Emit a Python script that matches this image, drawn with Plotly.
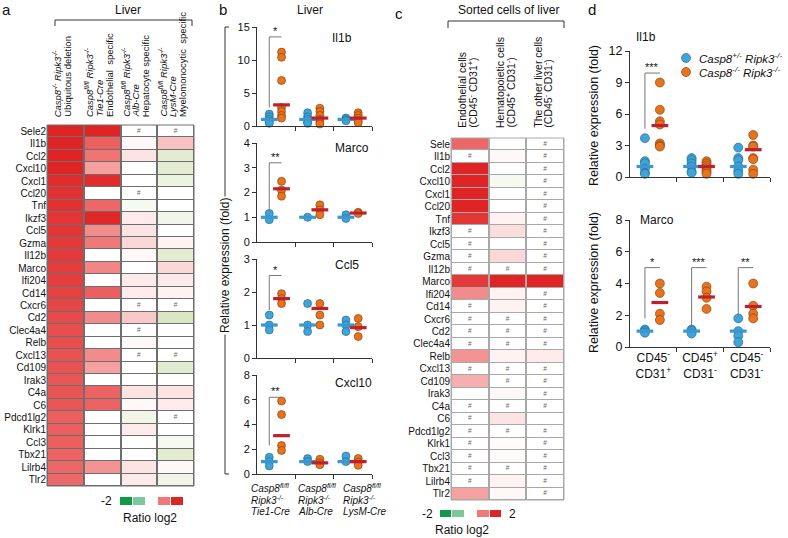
import plotly.graph_objects as go

W, H = 788, 538
FONT = "Arial, Liberation Sans, sans-serif"
TXT = "#111111"
AX = "#333333"


def fx(x):
    return x / W


def fy(y):
    return 1 - y / H


# ---------------- Panel a data (log2 ratio) ----------------
genes_a = ["Sele2", "Il1b", "Ccl2", "Cxcl10", "Cxcl1", "Ccl20", "Tnf", "Ikzf3", "Ccl5", "Gzma",
           "Il12b", "Marco", "Ifi204", "Cd14", "Cxcr6", "Cd2", "Clec4a4", "Relb", "Cxcl13", "Cd109",
           "Irak3", "C4a", "C6", "Pdcd1lg2", "Klrk1", "Ccl3", "Tbx21", "Lilrb4", "Tlr2"]
a_ubiquitous = [2.0, 2.0, 2.0, 2.0, 1.9, 1.85, 1.85, 1.8, 1.8, 1.75, 1.75, 1.7, 1.7, 1.65, 1.6,
                1.55, 1.5, 1.5, 1.45, 1.45, 1.4, 1.4, 1.4, 1.3, 1.3, 1.3, 1.25, 1.2, 1.2]
a_tie1 = [2.0, 1.3, 1.05, 0.7, 1.9, 0, 1.2, 1.95, 0.85, 1.0, 0, 0.9, 0, 1.3, 0, 0.85, 0, 0, 0.85,
          0.7, 0, 1.25, 1.25, 0, 0, 0, 0, 0.8, 0]
a_alb = [0, 0.05, 0.2, 0, 0, 0, -0.1, 0.15, 0.2, 0.3, 0.05, 0, 0.15, 0.15, 0, 0.4, 0, 0.05, 0, 0,
         0, 0.2, 0.05, -0.15, 0.15, 0, 0, 0.2, 0.15]
a_lysm = [0, 0.45, -0.3, -0.3, -0.2, 0, 0, -0.15, 0, 0.1, -0.3, 0.3, 0.15, 0.1, 0, -0.4, 0, 0, 0,
          -0.3, 0, 0.2, 0.15, 0, 0, -0.1, -0.3, 0.05, -0.15]
hash_a = [[], [], ["Sele2", "Ccl20", "Cxcr6", "Clec4a4", "Cxcl13"],
          ["Sele2", "Cxcr6", "Cxcl13", "Pdcd1lg2"]]
cols_a_labels = [
    ["<i>Casp8<sup>-/-</sup> Ripk3<sup>-/-</sup></i>", "Ubiquitous deletion"],
    ["<i>Casp8<sup>fl/fl</sup> Ripk3<sup>-/-</sup></i>", "<i>Tie1-Cre</i>", "Endothelial  specific"],
    ["<i>Casp8<sup>fl/fl</sup> Ripk3<sup>-/-</sup></i>", "<i>Alb-Cre</i>", "Hepatocyte specific"],
    ["<i>Casp8<sup>fl/fl</sup> Ripk3<sup>-/-</sup></i>", "<i>LysM-Cre</i>", "Myelomonocytic  specific"],
]

# ---------------- Panel c data (log2 ratio) ----------------
genes_c = ["Sele"] + genes_a[1:]
c_endo = [1.2, 0, 2.0, 2.0, 2.0, 2.0, 1.8, 0, 0, 0, 0, 1.75, 0.85, 0, 0, 0, 0, 0.8, 0, 0.6, 0, 0,
          0, 0, 0, 0, 0, 0, 0.7]
c_hemato = [0, 0.05, 0, -0.1, 0, 0, 0.1, 0.25, 0, 0.3, 0, 2.0, 0.1, 0.1, 0, 0, 0, 0.1, 0, 0, 0.05,
            0, 0.2, 0, 0.03, 0.03, 0, 0.1, 0.05]
c_other = [0, 0, 0, 0, 0, 0, 0, 0, 0, 0, 0, 2.0, 0, 0, 0, 0, 0, 0.15, 0, 0, 0, 0, 0, 0, 0, 0, 0,
           0, 0]
hash_c = [
    ["Il1b", "Ikzf3", "Ccl5", "Gzma", "Il12b", "Cd14", "Cxcr6", "Cd2", "Clec4a4", "Cxcl13", "C4a",
     "C6", "Pdcd1lg2", "Klrk1", "Ccl3", "Tbx21", "Lilrb4"],
    ["Il12b", "Cxcr6", "Cd2", "Clec4a4", "Cxcl13", "Cd109", "C4a", "Pdcd1lg2", "Tbx21"],
    [g for g in genes_c if g not in ("Marco", "Relb", "C6")],
]
cols_c_labels = [
    ["Endothelial cells", "(CD45<sup>-</sup> CD31<sup>+</sup>)"],
    ["Hematopoietic cells", "(CD45<sup>+</sup> CD31<sup>-</sup>)"],
    ["The other liver cells", "(CD45<sup>-</sup> CD31<sup>-</sup>)"],
]
legend_vals = [-2, -1, 0, 1, 2]

# ---------------- Panel b data (relative expression) ----------------
b_ticktext = [["<i>Casp8<sup>fl/fl</sup></i>", "<i>Ripk3<sup>-/-</sup></i>", "<i>Tie1-Cre</i>"],
              ["<i>Casp8<sup>fl/fl</sup></i>", "<i>Ripk3<sup>-/-</sup></i>", "<i>Alb-Cre</i>"],
              ["<i>Casp8<sup>fl/fl</sup></i>", "<i>Ripk3<sup>-/-</sup></i>", "<i>LysM-Cre</i>"]]
b_il1b_ctrl = [[1.8, 1.4, 1.0, 0.7, 0.4], [2.0, 1.4, 1.0, 0.6, 0.4], [1.2, 1.0, 0.8]]
b_il1b_ko = [[11.2, 10.4, 6.9, 2.8, 2.2, 1.6, 1.2], [2.7, 2.2, 1.6, 1.0, 0.6, 0.3],
             [2.0, 1.6, 1.2, 0.8, 0.5]]
b_il1b_ctrl_mid = [1.0, 1.0, 1.0]
b_il1b_ko_mid = [3.2, 1.2, 1.2]
b_marco_ctrl = [[1.15, 0.9], [1.0], [1.1, 0.95]]
b_marco_ko = [[2.45, 2.1, 1.85], [1.5, 1.3, 1.1], [1.2, 1.15]]
b_marco_ctrl_mid = [1.0, 1.0, 1.0]
b_marco_ko_mid = [2.15, 1.3, 1.17]
b_ccl5_ctrl = [[1.3, 1.0, 0.85], [1.65, 1.0, 0.8], [1.15, 1.0, 0.8]]
b_ccl5_ko = [[1.95, 1.8, 1.65], [1.65, 1.3, 1.0], [1.2, 0.95, 0.65]]
b_ccl5_ctrl_mid = [1.0, 1.0, 1.0]
b_ccl5_ko_mid = [1.8, 1.5, 0.92]
b_cxcl10_ctrl = [[1.35, 1.0, 0.65], [1.25, 1.0], [1.45, 1.0]]
b_cxcl10_ko = [[5.9, 4.8, 2.3, 1.9], [1.2, 0.9, 0.75], [1.25, 0.95, 0.7]]
b_cxcl10_ctrl_mid = [1.0, 1.0, 1.0]
b_cxcl10_ko_mid = [3.1, 0.9, 1.0]
# significance: (group, bracket bottom, bracket top, label)
b_il1b_sig = [(1, 2.8, 13.5, "*")]
b_marco_sig = [(1, 1.25, 3.2, "**")]
b_ccl5_sig = [(1, 1.45, 2.5, "*")]
b_cxcl10_sig = [(1, 2.3, 6.2, "**")]

# ---------------- Panel d data ----------------
d_ticktext = ["CD45<sup>-</sup><br>CD31<sup>+</sup>", "CD45<sup>+</sup><br>CD31<sup>-</sup>",
              "CD45<sup>-</sup><br>CD31<sup>-</sup>"]
d_il1b_ctrl = [[3.7, 1.5, 1.3, 0.8, 0.4, 0.3], [1.8, 1.6, 1.3, 1.0, 0.5, 0.4],
               [2.8, 1.8, 1.6, 1.0, 0.6, 0.3]]
d_il1b_ko = [[9.0, 6.4, 5.3, 5.0, 3.2, 3.0, 2.9], [1.5, 1.3, 1.1, 0.9, 0.7, 0.5, 0.3],
             [4.0, 3.0, 2.9, 1.8, 1.7, 0.7, 0.3]]
d_il1b_ctrl_mid = [1.0, 1.0, 1.0]
d_il1b_ko_mid = [4.9, 1.0, 2.6]
d_marco_ctrl = [[1.1, 1.0, 0.9], [1.1, 1.0, 0.85], [1.8, 1.0, 0.7, 0.3]]
d_marco_ko = [[4.0, 3.4, 2.1, 1.7], [3.8, 3.5, 3.1, 2.4], [4.0, 2.6, 2.1, 1.8]]
d_marco_ctrl_mid = [1.0, 1.0, 1.0]
d_marco_ko_mid = [2.8, 3.15, 2.55]
d_il1b_sig = [(1, 4.6, 9.9, "***")]
d_marco_sig = [(1, 1.8, 5.0, "*"), (2, 1.25, 5.0, "***"), (3, 2.0, 5.0, "**")]
d_legend = ["<i>Casp8<sup>+/-</sup> Ripk3<sup>-/-</sup></i>", "<i>Casp8<sup>-/-</sup> Ripk3<sup>-/-</sup></i>"]

# ---------------- styles ----------------
CS = [[0, "#109a48"], [0.25, "#7cc79c"], [0.4, "#d9e6c2"], [0.5, "#ffffff"],
      [0.75, "#f07878"], [1, "#de2424"]]
BLUE, BLUE_EDGE, BLUE_LINE = "#3fa4d8", "#1f5f87", "#3a97d3"
ORANGE, ORANGE_EDGE, RED_LINE = "#e8731c", "#7a3a0a", "#c0202c"
OFF_C, OFF_K = -0.18, 0.14

fig = go.Figure()
shapes, annotations, lay = [], [], {}


def pline(x0, y0, x1, y1, color=AX, w=1):
    shapes.append(dict(type="line", xref="paper", yref="paper", x0=fx(x0), y0=fy(y0),
                       x1=fx(x1), y1=fy(y1), line=dict(color=color, width=w)))


def ptext(x, y, s, size=11, xanchor="center", yanchor="middle", angle=0, **kw):
    annotations.append(dict(x=fx(x), y=fy(y), xref="paper", yref="paper", text=s,
                            showarrow=False, font=dict(size=size, family=FONT, color=TXT),
                            xanchor=xanchor, yanchor=yanchor, textangle=angle, **kw))


def heat_panel(n, genes, cols, hashes, x0, x1, y0, y1, grid, xgap):
    z = [list(r) for r in zip(*cols)]
    xs = list(range(len(cols)))
    fig.add_trace(go.Heatmap(z=z, x=xs, y=genes, colorscale=CS, zmin=-2, zmax=2, showscale=False,
                             xgap=xgap, ygap=1, xaxis=f"x{n}", yaxis=f"y{n}", hoverinfo="skip"))
    hx, hy = [], []
    for ci, lst in enumerate(hashes):
        for g in lst:
            hx.append(ci)
            hy.append(g)
    fig.add_trace(go.Scatter(x=hx, y=hy, mode="text", text=["#"] * len(hx),
                             textfont=dict(size=6.5, color="#666666", family=FONT),
                             xaxis=f"x{n}", yaxis=f"y{n}", hoverinfo="skip", showlegend=False))
    xn = "" if n == 1 else n
    shapes.append(dict(type="rect", xref=f"x{xn} domain", yref=f"y{xn} domain", x0=0, x1=1, y0=0,
                       y1=1, fillcolor=grid, line=dict(width=0), layer="below"))
    shapes.append(dict(type="rect", xref=f"x{xn} domain", yref=f"y{xn} domain", x0=0, x1=1, y0=0,
                       y1=1, line=dict(color=grid, width=1), layer="above"))
    lay[f"xaxis{xn}"] = dict(domain=[fx(x0), fx(x1)], range=[-0.5, len(cols) - 0.5],
                             anchor=f"y{xn}", showticklabels=False, showgrid=False,
                             zeroline=False, showline=False, ticks="", automargin=False)
    lay[f"yaxis{xn}"] = dict(domain=[fy(y1), fy(y0)], type="category", categoryorder="array",
                             categoryarray=genes, range=[len(genes) - 0.5, -0.5],
                             autorange=False, anchor=f"x{xn}", tickmode="array",
                             tickvals=genes, ticktext=genes, automargin=False,
                             showgrid=False, zeroline=False, showline=False, ticks="",
                             tickfont=dict(size=10, family=FONT, color=TXT))


def bar_legend(n, x0, x1, y0, y1):
    fig.add_trace(go.Heatmap(z=[legend_vals], x=list(range(len(legend_vals))), y=[0],
                             colorscale=CS, zmin=-2, zmax=2, showscale=False, xgap=1,
                             xaxis=f"x{n}", yaxis=f"y{n}", hoverinfo="skip"))
    lay[f"xaxis{n}"] = dict(domain=[fx(x0), fx(x1)], anchor=f"y{n}", visible=False,
                            automargin=False)
    lay[f"yaxis{n}"] = dict(domain=[fy(y1), fy(y0)], anchor=f"x{n}", visible=False,
                            automargin=False)


def dot_panel(n, ctrl, ko, ctrl_mid, ko_mid, sig, x0, x1, y0, y1, yr, ytv, fs, size,
              ticktext=None, legend=False):
    xa, ya = f"x{n}", f"y{n}"
    xc, yc, xk, yk = [], [], [], []
    for gi, vals in enumerate(ctrl):
        for v in vals:
            xc.append(gi + 1 + OFF_C)
            yc.append(v)
    for gi, vals in enumerate(ko):
        for v in vals:
            xk.append(gi + 1 + OFF_K)
            yk.append(v)
    fig.add_trace(go.Scatter(x=xc, y=yc, mode="markers", xaxis=xa, yaxis=ya, cliponaxis=False,
                             marker=dict(size=size, color=BLUE, line=dict(color=BLUE_EDGE, width=0.6)),
                             showlegend=legend, legend="legend", name=" ", hoverinfo="skip"))
    fig.add_trace(go.Scatter(x=xk, y=yk, mode="markers", xaxis=xa, yaxis=ya, cliponaxis=False,
                             marker=dict(size=size, color=ORANGE, line=dict(color=ORANGE_EDGE, width=0.6)),
                             showlegend=legend, legend="legend2", name=" ", hoverinfo="skip"))
    fig.add_trace(go.Scatter(x=[g + 1 + OFF_C for g in range(3)], y=ctrl_mid, mode="markers",
                             xaxis=xa, yaxis=ya, cliponaxis=False, showlegend=False, hoverinfo="skip",
                             marker=dict(symbol="line-ew", size=12,
                                         line=dict(color=BLUE_LINE, width=3.2))))
    fig.add_trace(go.Scatter(x=[g + 1 + OFF_K for g in range(3)], y=ko_mid, mode="markers",
                             xaxis=xa, yaxis=ya, cliponaxis=False, showlegend=False, hoverinfo="skip",
                             marker=dict(symbol="line-ew", size=12,
                                         line=dict(color=RED_LINE, width=3.2))))
    for g, lo, hi, lab in sig:
        shapes.append(dict(type="line", xref=xa, yref=ya, x0=g + OFF_C, x1=g + OFF_C, y0=lo, y1=hi,
                           line=dict(color="#777777", width=1)))
        shapes.append(dict(type="line", xref=xa, yref=ya, x0=g + OFF_C, x1=g + OFF_K, y0=hi, y1=hi,
                           line=dict(color="#777777", width=1)))
        annotations.append(dict(x=g + (OFF_C + OFF_K) / 2, y=hi, xref=xa, yref=ya, text=lab,
                                showarrow=False, yanchor="bottom", yshift=-2,
                                font=dict(size=11, family=FONT, color=TXT)))
    xax = dict(domain=[fx(x0), fx(x1)], range=[0.5, 3.5], anchor=ya, showline=True,
               linecolor=AX, linewidth=1, ticks="", showgrid=False, zeroline=False,
               automargin=False,
               minor=dict(tickmode="array", tickvals=[1.5, 2.5, 3.5], ticks="outside",
                          ticklen=4, tickcolor=AX, tickwidth=1))
    if ticktext:
        xax.update(tickmode="array", tickvals=[1, 2, 3], ticktext=ticktext, tickangle=0,
                   tickfont=dict(size=fs - 0.5, family=FONT, color=TXT))
    else:
        xax.update(showticklabels=False, tickmode="array", tickvals=[1, 2, 3])
    lay[f"xaxis{n}"] = xax
    lay[f"yaxis{n}"] = dict(domain=[fy(y1), fy(y0)], range=yr, anchor=xa, showline=True,
                            linecolor=AX, linewidth=1, ticks="outside", ticklen=4, tickcolor=AX,
                            tickvals=ytv, showgrid=False, zeroline=False, automargin=False,
                            tickfont=dict(size=fs, family=FONT, color=TXT))


# ---------------- Panel a ----------------
heat_panel(1, genes_a, [a_ubiquitous, a_tie1, a_alb, a_lysm], hash_a, 47, 194, 125, 486,
           "#6e6e6e", 2)
for ci, lines in enumerate(cols_a_labels):
    nl = len(lines)
    for k, s in enumerate(lines):
        annotations.append(dict(x=ci, y=fy(119), xref="x", yref="paper", text=s, showarrow=False,
                                textangle=-90, xanchor="center", yanchor="bottom",
                                xshift=(k - (nl - 1) / 2) * 10 - 3,
                                font=dict(size=9.5, family=FONT, color=TXT)))
ptext(6, 10, "a", size=15)
ptext(128, 10, "Liver", size=12)
pline(55, 26, 55, 20)
pline(55, 20, 192, 20)
pline(192, 20, 192, 26)
bar_legend(9, 120, 184, 497, 505)
ptext(114, 501, "-2", size=12, xanchor="right")
ptext(150, 518, "Ratio log2", size=12)

# ---------------- Panel c ----------------
heat_panel(2, genes_c, [c_endo, c_hemato, c_other], hash_c, 451, 564, 138, 500, "#a8a8a8", 2)
for ci, lines in enumerate(cols_c_labels):
    nl = len(lines)
    for k, s in enumerate(lines):
        annotations.append(dict(x=ci, y=fy(130), xref="x2", yref="paper", text=s, showarrow=False,
                                textangle=-90, xanchor="center", yanchor="bottom",
                                xshift=(k - (nl - 1) / 2) * 10 - 3,
                                font=dict(size=10.5, family=FONT, color=TXT)))
ptext(399, 13, "c", size=15)
ptext(508, 10, "Sorted cells of liver", size=12)
pline(448, 28, 448, 21)
pline(448, 21, 564, 21)
pline(564, 21, 564, 28)
bar_legend(10, 440, 502, 510, 517)
ptext(435, 514, "-2", size=12, xanchor="right")
ptext(507, 514, "2", size=12, xanchor="left")
ptext(462, 530, "Ratio log2", size=12)

# ---------------- Panel b ----------------
BX0, BX1 = 257, 372
dot_panel(3, b_il1b_ctrl, b_il1b_ko, b_il1b_ctrl_mid, b_il1b_ko_mid, b_il1b_sig,
          BX0, BX1, 27, 126, [0, 15], [0, 5, 10, 15], 11, 8)
dot_panel(4, b_marco_ctrl, b_marco_ko, b_marco_ctrl_mid, b_marco_ko_mid, b_marco_sig,
          BX0, BX1, 143, 242, [0, 4], [0, 1, 2, 3, 4], 11, 8)
dot_panel(5, b_ccl5_ctrl, b_ccl5_ko, b_ccl5_ctrl_mid, b_ccl5_ko_mid, b_ccl5_sig,
          BX0, BX1, 259, 358, [0, 3], [0, 1, 2, 3], 11, 8)
dot_panel(6, b_cxcl10_ctrl, b_cxcl10_ko, b_cxcl10_ctrl_mid, b_cxcl10_ko_mid, b_cxcl10_sig,
          BX0, BX1, 375, 474, [0, 8], [0, 2, 4, 6, 8], 11, 8)
# group labels under panel b (left aligned per group)
b_label_x = [249, 296, 341]
b_label_y = [488, 499.5, 511]
for gi, lines in enumerate(b_ticktext):
    for k, s in enumerate(lines):
        ptext(b_label_x[gi], b_label_y[k], s, size=10, xanchor="left")
ptext(223, 9, "b", size=15)
ptext(310, 10, "Liver", size=12)
ptext(342, 38, "Il1b", size=12)
ptext(352, 148, "Marco", size=12)
ptext(347, 265, "Ccl5", size=12)
ptext(353, 383, "Cxcl10", size=12)
pline(225, 27, 229, 27)
pline(225, 27, 225, 474)
pline(225, 474, 229, 474)
ptext(225, 266, "Relative expression (fold)", size=12, angle=-90, bgcolor="white")

# ---------------- Panel d ----------------
DX0, DX1 = 630, 770
dot_panel(7, d_il1b_ctrl, d_il1b_ko, d_il1b_ctrl_mid, d_il1b_ko_mid, d_il1b_sig,
          DX0, DX1, 51, 177, [0, 12], [0, 3, 6, 9, 12], 12.5, 9, legend=True)
dot_panel(8, d_marco_ctrl, d_marco_ko, d_marco_ctrl_mid, d_marco_ko_mid, d_marco_sig,
          DX0, DX1, 220, 347, [0, 8], [0, 2, 4, 6, 8], 12.5, 9, ticktext=d_ticktext)
ptext(592, 9, "d", size=15)
ptext(646, 37, "Il1b", size=12)
ptext(638, 220, "Marco", size=12, xanchor="left")
ptext(594, 116, "Relative expression (fold)", size=12.5, angle=-90)
ptext(594, 283, "Relative expression (fold)", size=12.5, angle=-90)
ptext(697, 58, d_legend[0], size=11.5, xanchor="left")
ptext(697, 72, d_legend[1], size=11.5, xanchor="left")

lay["legend"] = dict(x=fx(666), y=fy(58), xanchor="left", yanchor="middle",
                     bgcolor="rgba(0,0,0,0)", font=dict(size=11), itemwidth=30)
lay["legend2"] = dict(x=fx(666), y=fy(72), xanchor="left", yanchor="middle",
                      bgcolor="rgba(0,0,0,0)", font=dict(size=11), itemwidth=30)

fig.update_layout(width=W, height=H, margin=dict(l=0, r=0, t=0, b=0, pad=0, autoexpand=False),
                  paper_bgcolor="white", plot_bgcolor="rgba(0,0,0,0)",
                  font=dict(family=FONT, color=TXT), shapes=shapes, annotations=annotations,
                  **lay)
fig.write_html("out.html", config={"displayModeBar": False},
               post_script="document.body.style.margin='0px';document.body.style.padding='0px';")
